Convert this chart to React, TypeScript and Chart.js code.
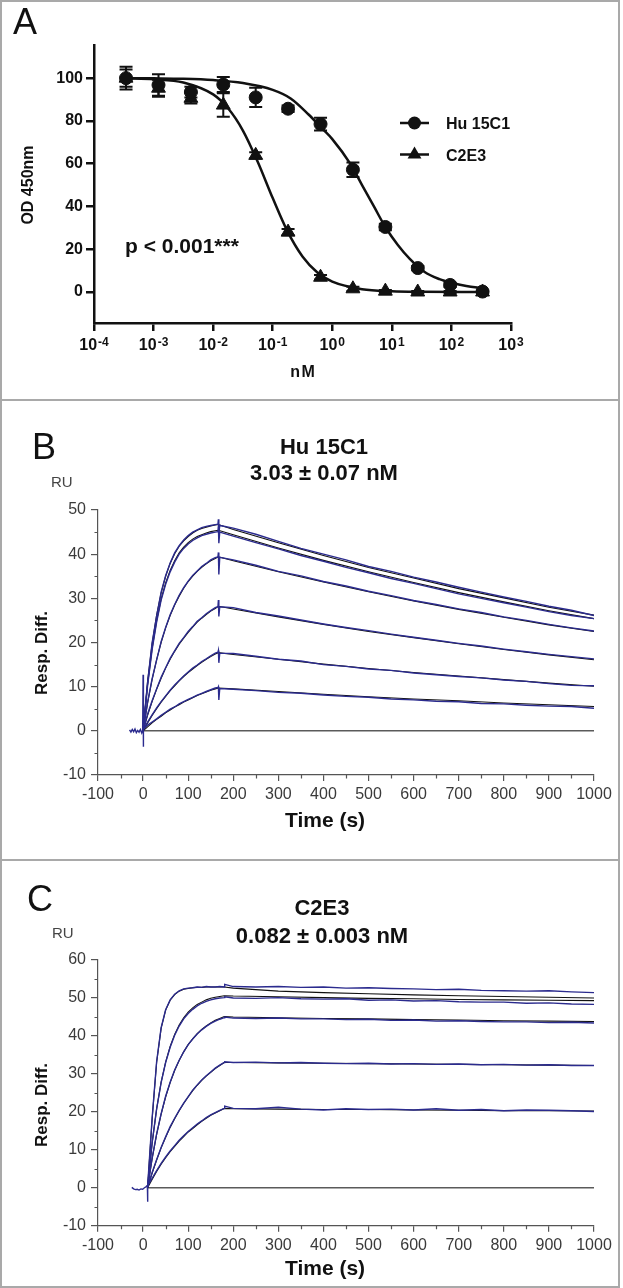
import React, { useEffect, useRef } from 'react';
import { Chart, registerables } from 'chart.js';

Chart.register(...registerables);

const FONT = '"Liberation Sans", Arial, Helvetica, sans-serif';
const INK = '#111111';
const BLUE = '#2b2b8e';
const AXIS = '#555555';
const TICK_TEXT = '#3a3a3a';

// ---------------- Panel A : competition ELISA ----------------
const CONC_NM = [0.000345, 0.00121, 0.00423, 0.0148, 0.0518, 0.181, 0.635, 2.22, 7.78, 27.2, 95.2, 333];
const HU15C1_OD = [100, 96.8, 93.5, 97, 91, 85.7, 78.5, 57.2, 30.4, 11.2, 3.3, 0.2];
const HU15C1_ERR = [5.3, 5, 2.5, 3.5, 4.5, 1.5, 3, 3.4, 1.5, 1, 1, 0.5];
const C2E3_OD = [100, 95.3, 90.6, 87.4, 63.9, 28, 6.9, 1.5, 0.4, 0, 0, 0];
const C2E3_ERR = [4, 4, 2.5, 5.5, 1.5, 1.5, 1, 1, 0.5, 0.5, 0.5, 0.5];
const HU15C1_FIT_X = [0.000345, 0.001, 0.00316, 0.01, 0.0316, 0.1, 0.2, 0.4, 0.7, 1, 2, 3.16, 5, 8, 12.6, 20, 35, 63, 100, 178, 333];
const HU15C1_FIT_Y = [100, 99.9, 99.7, 99.1, 97.7, 94.5, 90.5, 83, 76, 71.5, 60, 50, 40, 29.8, 22, 15.5, 9.5, 6, 4.3, 2.8, 1.8];
const C2E3_FIT_X = [0.000345, 0.001, 0.00316, 0.01, 0.0178, 0.0316, 0.0562, 0.1, 0.178, 0.316, 0.562, 1, 3.16, 10, 31.6, 333];
const C2E3_FIT_Y = [100, 99.5, 98.0, 92.4, 85.9, 75.5, 60.8, 43.9, 28.2, 16.6, 9.1, 4.8, 1.3, 0.35, 0.1, 0];
const A_X_TICKS = [1e-4, 1e-3, 1e-2, 1e-1, 1, 10, 100, 1000];
const A_X_EXPONENTS = ['-4', '-3', '-2', '-1', '0', '1', '2', '3'];
const A_Y_TICKS = [0, 20, 40, 60, 80, 100];

// ---------------- Panel B : Hu 15C1 sensorgrams ----------------
const B_FIT_T = [0, 10, 20, 30, 40, 50, 60, 70, 80, 90, 100, 110, 120, 130, 140, 150, 160, 167, 200, 300, 400, 500, 600, 700, 800, 900, 1000];
const B1_FIT = [0, 11.2, 19.7, 26.2, 31.2, 35.0, 37.9, 40.1, 41.8, 43.0, 44.0, 44.8, 45.4, 45.8, 46.1, 46.4, 46.6, 46.7, 45.6, 42.6, 39.7, 37.0, 34.6, 32.2, 30.1, 28.0, 26.2];
const B2_FIT = [0, 10.5, 18.6, 24.9, 29.8, 33.5, 36.3, 38.5, 40.3, 41.6, 42.6, 43.4, 44.0, 44.4, 44.8, 45.1, 45.3, 45.4, 44.4, 41.4, 38.6, 36.0, 33.6, 31.3, 29.2, 27.2, 25.4];
const B3_FIT = [0, 6.3, 11.6, 16.1, 20.0, 23.3, 26.1, 28.5, 30.5, 32.3, 33.8, 35.0, 36.1, 37.0, 37.8, 38.5, 39.0, 39.4, 38.5, 36.0, 33.7, 31.5, 29.4, 27.5, 25.7, 24.0, 22.5];
const B4_FIT = [0, 3.5, 6.6, 9.4, 11.9, 14.2, 16.2, 18.0, 19.6, 21.0, 22.3, 23.5, 24.6, 25.5, 26.3, 27.1, 27.7, 28.2, 27.6, 25.8, 24.1, 22.5, 21.1, 19.7, 18.4, 17.2, 16.1];
const B5_FIT = [0, 1.8, 3.5, 5.0, 6.5, 7.8, 9.1, 10.2, 11.3, 12.3, 13.2, 14.0, 14.8, 15.5, 16.2, 16.8, 17.4, 17.7, 17.3, 16.2, 15.1, 14.1, 13.2, 12.4, 11.6, 10.8, 10.1];
const B6_FIT = [0, 0.9, 1.8, 2.6, 3.3, 4.1, 4.7, 5.4, 5.9, 6.5, 7.0, 7.5, 8.0, 8.4, 8.8, 9.2, 9.5, 9.7, 9.5, 8.9, 8.3, 7.7, 7.2, 6.8, 6.3, 5.9, 5.5];

const B_DATA_T = [0, 10, 20, 30, 40, 50, 60, 70, 80, 90, 100, 110, 120, 130, 140, 150, 160, 166, 167, 168, 170, 200, 250, 300, 350, 400, 450, 500, 550, 600, 650, 700, 750, 800, 850, 900, 950, 1000];
const B1_DATA = [0.2, 11.0, 19.9, 26.0, 31.4, 35.1, 38.0, 40.3, 41.9, 43.2, 44.2, 45.0, 45.5, 46.0, 46.3, 46.5, 46.7, 46.8, 47.9, 44.5, 46.5, 45.9, 44.5, 42.9, 41.3, 40.0, 38.7, 37.2, 36.1, 34.8, 33.7, 32.5, 31.4, 30.3, 29.3, 28.2, 27.3, 26.1];
const B2_DATA = [-0.1, 10.3, 18.4, 24.6, 29.6, 33.2, 36.0, 38.2, 40.0, 41.3, 42.3, 43.1, 43.7, 44.2, 44.5, 44.8, 45.0, 45.1, 46.3, 42.5, 45.0, 44.1, 42.6, 41.2, 39.7, 38.4, 37.0, 35.8, 34.5, 33.4, 32.2, 31.0, 30.0, 29.0, 28.0, 27.0, 26.1, 25.4];
const B3_DATA = [0.1, 6.5, 11.8, 16.0, 20.2, 23.4, 26.3, 28.6, 30.7, 32.4, 33.9, 35.2, 36.2, 37.2, 37.9, 38.7, 39.2, 39.4, 40.4, 35.4, 39.3, 38.7, 37.5, 36.1, 35.1, 33.8, 32.8, 31.6, 30.6, 29.5, 28.6, 27.6, 26.8, 25.8, 25.0, 24.1, 23.3, 22.6];
const B4_DATA = [0, 3.8, 6.8, 9.5, 12.1, 14.3, 16.4, 18.1, 19.8, 21.1, 22.5, 23.6, 24.8, 25.6, 26.5, 27.2, 27.9, 28.1, 29.6, 25.9, 28.1, 27.9, 26.8, 26.0, 25.1, 24.2, 23.4, 22.7, 21.9, 21.2, 20.5, 19.8, 19.2, 18.5, 17.9, 17.3, 16.8, 16.3];
const B5_DATA = [0.2, 2.0, 3.6, 5.2, 6.6, 7.9, 9.2, 10.4, 11.4, 12.4, 13.3, 14.2, 14.9, 15.7, 16.3, 17.0, 17.6, 17.8, 18.2, 15.4, 17.6, 17.5, 16.9, 16.2, 15.8, 15.0, 14.6, 14.0, 13.7, 13.1, 12.7, 12.3, 12.0, 11.5, 11.2, 10.7, 10.3, 10.2];
const B6_DATA = [0.3, 1.3, 2.0, 2.7, 3.5, 4.2, 4.9, 5.4, 6.1, 6.6, 7.1, 7.6, 8.1, 8.5, 8.9, 9.3, 9.7, 9.8, 10.0, 7.0, 9.6, 9.4, 9.1, 8.7, 8.5, 8.1, 7.8, 7.6, 7.2, 7.0, 6.7, 6.6, 6.2, 6.1, 5.8, 5.6, 5.5, 5.1];
const B_BASE_T = [-30, -27, -24, -21, -18, -15, -12, -9, -6, -3, -1, 0, 0.3, 0.7, 1.2];
const B_BASE_V = [0.2, -0.3, 0.3, -0.2, 0.4, -0.4, 0.1, -0.3, 0.3, -0.5, 0.1, 12.7, -3.6, 1.2, 0.3];
const B_ZERO_T = [0, 1000];

// ---------------- Panel C : C2E3 sensorgrams ----------------
const C_FIT_T = [10, 20, 30, 40, 50, 60, 70, 80, 90, 100, 110, 120, 130, 140, 150, 160, 170, 180, 200, 300, 400, 500, 600, 700, 800, 900, 1000];
const C1_FIT = [0, 18, 33, 42, 46.8, 49.4, 50.9, 51.8, 52.3, 52.5, 52.7, 52.8, 52.8, 52.9, 52.9, 52.9, 52.9, 52.9, 52.6, 51.8, 51.4, 51.1, 50.8, 50.6, 50.4, 50.2, 50.0];
const C2_FIT = [0, 11.7, 20.7, 27.8, 33.1, 37.2, 40.4, 42.9, 44.8, 46.3, 47.4, 48.3, 48.9, 49.5, 49.9, 50.2, 50.4, 50.6, 50.5, 50.3, 50.1, 49.9, 49.8, 49.6, 49.5, 49.4, 49.3];
const C3_FIT = [0, 7.6, 14.0, 19.4, 23.9, 27.7, 30.9, 33.5, 35.8, 37.7, 39.2, 40.6, 41.7, 42.6, 43.4, 44.1, 44.6, 45.1, 45.0, 44.8, 44.6, 44.5, 44.3, 44.2, 44.0, 43.9, 43.8];
const C4_FIT = [0, 3.8, 7.3, 10.5, 13.3, 15.9, 18.2, 20.3, 22.2, 23.9, 25.6, 27.0, 28.3, 29.4, 30.4, 31.4, 32.2, 33.0, 33.0, 32.9, 32.8, 32.7, 32.6, 32.5, 32.4, 32.3, 32.2];
const C5_FIT = [0, 2.2, 4.3, 6.2, 7.9, 9.5, 10.9, 12.3, 13.5, 14.7, 15.6, 16.6, 17.5, 18.3, 19.1, 19.7, 20.3, 20.9, 20.8, 20.7, 20.6, 20.6, 20.5, 20.4, 20.3, 20.3, 20.2];

const C_DATA_T = [10, 20, 30, 40, 50, 60, 70, 80, 90, 100, 110, 120, 130, 140, 150, 160, 170, 180, 181, 200, 250, 300, 350, 400, 450, 500, 550, 600, 650, 700, 750, 800, 850, 900, 950, 1000];
const C1_DATA = [0.3, 18.3, 33.2, 42.2, 46.9, 49.5, 51.0, 51.9, 52.4, 52.6, 52.7, 52.9, 52.8, 53.0, 52.9, 52.9, 53.0, 52.9, 53.6, 53.0, 52.9, 53.0, 52.8, 52.9, 52.6, 52.7, 52.5, 52.4, 52.2, 52.3, 52.0, 51.9, 51.8, 51.9, 51.6, 51.4];
const C2_DATA = [0.2, 11.8, 20.8, 27.7, 33.0, 37.0, 40.2, 42.6, 44.5, 45.9, 47.0, 47.9, 48.6, 49.1, 49.5, 49.8, 50.0, 50.1, 50.3, 50.0, 49.9, 50.1, 49.8, 49.7, 49.8, 49.4, 49.5, 49.2, 49.3, 49.0, 48.9, 48.9, 48.6, 48.7, 48.4, 48.3];
const C3_DATA = [0.1, 7.8, 14.2, 19.5, 24.1, 27.8, 31.0, 33.6, 35.8, 37.7, 39.2, 40.5, 41.6, 42.5, 43.3, 43.9, 44.4, 44.8, 45.0, 44.7, 44.6, 44.7, 44.5, 44.5, 44.3, 44.4, 44.1, 44.2, 43.9, 44.0, 43.8, 43.7, 43.7, 43.5, 43.6, 43.4];
const C4_DATA = [0.2, 4.0, 7.4, 10.6, 13.4, 16.1, 18.3, 20.4, 22.3, 24.0, 25.7, 27.1, 28.4, 29.5, 30.5, 31.5, 32.3, 33.0, 33.2, 33.0, 33.1, 32.9, 33.0, 32.8, 32.7, 32.8, 32.6, 32.7, 32.5, 32.6, 32.4, 32.5, 32.3, 32.4, 32.2, 32.2];
const C5_DATA = [0.4, 2.5, 4.5, 6.4, 8.1, 9.7, 11.1, 12.5, 13.7, 14.8, 15.8, 16.8, 17.6, 18.5, 19.2, 19.8, 20.4, 20.9, 21.5, 20.9, 20.8, 21.2, 20.7, 20.5, 20.8, 20.6, 20.7, 20.5, 20.8, 20.4, 20.6, 20.3, 20.5, 20.4, 20.3, 20.1];
const C_BASE_T = [-25, -21, -17, -13, -9, -5, -1, 3, 7, 9.5, 10, 10.4, 11];
const C_BASE_V = [0.1, -0.3, -0.5, -0.4, -0.6, -0.3, -0.4, 0.0, 0.3, 0.6, -3.7, 1.0, 0.4];
const C_ZERO_T = [10, 1000];

// shared SPR axes
const SPR_X_TICKS = [-100, 0, 100, 200, 300, 400, 500, 600, 700, 800, 900, 1000];
const SPR_X_MINOR = [-50, 50, 150, 250, 350, 450, 550, 650, 750, 850, 950];
const B_Y_TICKS = [-10, 0, 10, 20, 30, 40, 50];
const B_Y_MINOR = [-5, 5, 15, 25, 35, 45];
const C_Y_TICKS = [-10, 0, 10, 20, 30, 40, 50, 60];
const C_Y_MINOR = [-5, 5, 15, 25, 35, 45, 55];

type Pt = { x: number; y: number };
const xy = (xs: number[], ys: number[]): Pt[] => xs.map((x, i) => ({ x, y: ys[i] }));

function txt(
  ctx: CanvasRenderingContext2D,
  s: string,
  x: number,
  y: number,
  font: string,
  align: CanvasTextAlign = 'left',
  baseline: CanvasTextBaseline = 'alphabetic',
  color = INK,
  rot = 0
) {
  ctx.save();
  ctx.font = font;
  ctx.fillStyle = color;
  ctx.textAlign = align;
  ctx.textBaseline = baseline;
  ctx.translate(x, y);
  if (rot) ctx.rotate(rot);
  ctx.fillText(s, 0, 0);
  ctx.restore();
}

function overlay(id: string, draw: (ctx: CanvasRenderingContext2D, chart: any) => void, before = false) {
  const fn = (chart: any) => {
    const ctx = chart.ctx as CanvasRenderingContext2D;
    ctx.save();
    draw(ctx, chart);
    ctx.restore();
  };
  return before ? { id, beforeDatasetsDraw: fn } : { id, afterDraw: fn };
}

function makeA(canvas: HTMLCanvasElement) {
  const errorBars = overlay(
    'errA',
    (ctx, chart) => {
      const xs = chart.scales.x;
      const ys = chart.scales.y;
      ctx.strokeStyle = INK;
      ctx.lineWidth = 2;
      const series = [
        [HU15C1_OD, HU15C1_ERR],
        [C2E3_OD, C2E3_ERR],
      ];
      series.forEach(([m, e]) => {
        CONC_NM.forEach((c, i) => {
          const px = xs.getPixelForValue(c);
          const t = ys.getPixelForValue(m[i] + e[i]);
          const b = ys.getPixelForValue(m[i] - e[i]);
          ctx.beginPath();
          ctx.moveTo(px, t);
          ctx.lineTo(px, b);
          ctx.moveTo(px - 6.5, t);
          ctx.lineTo(px + 6.5, t);
          ctx.moveTo(px - 6.5, b);
          ctx.lineTo(px + 6.5, b);
          ctx.stroke();
        });
      });
    },
    true
  );

  const texts = overlay('txtA', (ctx, chart) => {
    const xs = chart.scales.x;
    txt(ctx, 'A', 13, 34, `36px ${FONT}`);
    txt(ctx, 'OD 450nm', 29, 185, `bold 16px ${FONT}`, 'center', 'middle', INK, -Math.PI / 2);
    txt(ctx, 'n\u200aM', 302.5, 373, `bold 16px ${FONT}`, 'center', 'middle');
    txt(ctx, 'p < 0.001***', 125, 253, `bold 21px ${FONT}`);
    A_X_TICKS.forEach((v, i) => {
      const px = xs.getPixelForValue(v);
      ctx.font = `bold 16px ${FONT}`;
      const wb = ctx.measureText('10').width;
      ctx.font = `bold 12px ${FONT}`;
      const ws = ctx.measureText(A_X_EXPONENTS[i]).width;
      const start = px - (wb + ws + 1) / 2;
      txt(ctx, '10', start, 349.5, `bold 16px ${FONT}`);
      txt(ctx, A_X_EXPONENTS[i], start + wb + 1, 346, `bold 12px ${FONT}`);
    });
    ctx.strokeStyle = INK;
    ctx.fillStyle = INK;
    ctx.lineWidth = 2.5;
    ctx.beginPath();
    ctx.moveTo(400, 123);
    ctx.lineTo(429, 123);
    ctx.moveTo(400, 154.5);
    ctx.lineTo(429, 154.5);
    ctx.stroke();
    ctx.beginPath();
    ctx.arc(414.5, 123, 6.5, 0, Math.PI * 2);
    ctx.fill();
    const r = 8;
    ctx.beginPath();
    ctx.moveTo(414.5, 154.5 - r);
    ctx.lineTo(414.5 + r * 0.866, 154.5 + r / 2);
    ctx.lineTo(414.5 - r * 0.866, 154.5 + r / 2);
    ctx.closePath();
    ctx.fill();
    txt(ctx, 'Hu 15C1', 446, 129.3, `bold 16px ${FONT}`);
    txt(ctx, 'C2E3', 446, 160.7, `bold 16px ${FONT}`);
  });

  return new Chart(canvas, {
    type: 'line',
    data: {
      datasets: [
        {
          data: xy(CONC_NM, HU15C1_OD),
          showLine: false,
          pointStyle: 'circle',
          pointRadius: 6.5,
          pointBackgroundColor: INK,
          pointBorderColor: INK,
          pointBorderWidth: 1,
        },
        {
          data: xy(CONC_NM, C2E3_OD),
          showLine: false,
          pointStyle: 'triangle',
          pointRadius: 8,
          pointBackgroundColor: INK,
          pointBorderColor: INK,
          pointBorderWidth: 1,
        },
        {
          data: xy(HU15C1_FIT_X, HU15C1_FIT_Y),
          borderColor: INK,
          borderWidth: 2.5,
          pointRadius: 0,
          cubicInterpolationMode: 'monotone',
        },
        {
          data: xy(C2E3_FIT_X, C2E3_FIT_Y),
          borderColor: INK,
          borderWidth: 2.5,
          pointRadius: 0,
          cubicInterpolationMode: 'monotone',
        },
      ],
    } as any,
    options: {
      responsive: false,
      animation: false,
      devicePixelRatio: 1,
      layout: { padding: { left: 0, right: 112, top: 45, bottom: 47 } },
      plugins: { legend: { display: false }, tooltip: { enabled: false } },
      scales: {
        x: {
          type: 'logarithmic',
          min: 1e-4,
          max: 1e3,
          afterBuildTicks: (s: any) => {
            s.ticks = A_X_TICKS.map((v) => ({ value: v }));
          },
          afterFit: (s: any) => {
            s.height = 30;
          },
          grid: { drawOnChartArea: false, drawTicks: true, tickLength: 8, color: INK, lineWidth: 2.5 },
          border: { display: true, color: INK, width: 2.5 },
          ticks: { display: false },
        },
        y: {
          type: 'linear',
          min: -14.5,
          max: 115.5,
          afterBuildTicks: (s: any) => {
            s.ticks = A_Y_TICKS.map((v) => ({ value: v }));
          },
          afterFit: (s: any) => {
            s.width = 94;
          },
          grid: { drawOnChartArea: false, drawTicks: true, tickLength: 8, color: INK, lineWidth: 2.5 },
          border: { display: true, color: INK, width: 2.5 },
          ticks: {
            color: INK,
            padding: 3,
            font: { family: FONT, size: 16, weight: 'bold' },
            callback: (v: any) => String(v),
          },
        },
      },
    } as any,
    plugins: [errorBars, texts],
  });
}

type SprPanel = {
  fitT: number[];
  fits: number[][];
  dataT: number[];
  traces: number[][];
  baseT: number[];
  baseV: number[];
  zeroT: number[];
  yMin: number;
  yMax: number;
  yTicks: number[];
  yMinor: number[];
  top: number;
  bottom: number;
  label: string;
  labelBase: number;
  labelX: number;
  title1: string;
  title2: string;
  titleX: number;
  t1Base: number;
  t2Base: number;
  ruBase: number;
  ruX: number;
  yTitleY: number;
  xTitleBase: number;
};

function makeSpr(canvas: HTMLCanvasElement, p: SprPanel) {
  const datasets: any[] = [];
  // blue measured traces drawn on top of the black fitted curves
  p.traces.forEach((d) =>
    datasets.push({ data: xy(p.dataT, d), borderColor: BLUE, borderWidth: 1.4, pointRadius: 0 })
  );
  datasets.push({ data: xy(p.baseT, p.baseV), borderColor: BLUE, borderWidth: 1.4, pointRadius: 0 });
  p.fits.forEach((f) =>
    datasets.push({ data: xy(p.fitT, f), borderColor: INK, borderWidth: 1.1, pointRadius: 0 })
  );
  datasets.push({ data: xy(p.zeroT, [0, 0]), borderColor: '#5a5a5a', borderWidth: 1.5, pointRadius: 0 });

  const minor = overlay('minor', (ctx, chart) => {
    const xs = chart.scales.x;
    const ys = chart.scales.y;
    const a = chart.chartArea;
    ctx.strokeStyle = AXIS;
    ctx.lineWidth = 1.2;
    ctx.beginPath();
    SPR_X_MINOR.forEach((v) => {
      const px = Math.round(xs.getPixelForValue(v)) + 0.5;
      ctx.moveTo(px, a.bottom);
      ctx.lineTo(px, a.bottom + 3.5);
    });
    p.yMinor.forEach((v) => {
      const py = Math.round(ys.getPixelForValue(v)) + 0.5;
      ctx.moveTo(a.left - 3.5, py);
      ctx.lineTo(a.left, py);
    });
    ctx.stroke();

    txt(ctx, p.label, p.labelX, p.labelBase, `36px ${FONT}`);
    txt(ctx, p.title1, p.titleX, p.t1Base, `bold 22px ${FONT}`, 'center');
    txt(ctx, p.title2, p.titleX, p.t2Base, `bold 22px ${FONT}`, 'center');
    txt(ctx, 'RU', p.ruX, p.ruBase, `15px ${FONT}`, 'left', 'alphabetic', '#444444');
    txt(ctx, 'Resp. Diff.', 42, p.yTitleY, `bold 17px ${FONT}`, 'center', 'middle', INK, -Math.PI / 2);
    txt(ctx, 'Time (s)', 325, p.xTitleBase, `bold 21px ${FONT}`, 'center');
  });

  return new Chart(canvas, {
    type: 'line',
    data: { datasets },
    options: {
      responsive: false,
      animation: false,
      devicePixelRatio: 1,
      layout: { padding: { left: 0, right: 29, top: p.top, bottom: p.bottom } },
      plugins: { legend: { display: false }, tooltip: { enabled: false } },
      elements: { line: { tension: 0 } },
      scales: {
        x: {
          type: 'linear',
          min: -100,
          max: 1000,
          afterBuildTicks: (s: any) => {
            s.ticks = SPR_X_TICKS.map((v) => ({ value: v }));
          },
          afterFit: (s: any) => {
            s.height = 40;
          },
          grid: { drawOnChartArea: false, drawTicks: true, tickLength: 6, color: AXIS, lineWidth: 1.2 },
          border: { display: true, color: AXIS, width: 1.2 },
          ticks: {
            color: TICK_TEXT,
            padding: 4,
            autoSkip: false,
            maxRotation: 0,
            font: { family: FONT, size: 16 },
            callback: (v: any) => String(v),
          },
        },
        y: {
          type: 'linear',
          min: p.yMin,
          max: p.yMax,
          afterBuildTicks: (s: any) => {
            s.ticks = p.yTicks.map((v) => ({ value: v }));
          },
          afterFit: (s: any) => {
            s.width = 98;
          },
          grid: { drawOnChartArea: false, drawTicks: true, tickLength: 7, color: AXIS, lineWidth: 1.2 },
          border: { display: true, color: AXIS, width: 1.2 },
          ticks: {
            color: TICK_TEXT,
            padding: 5,
            font: { family: FONT, size: 16 },
            callback: (v: any) => String(v),
          },
        },
      },
    } as any,
    plugins: [minor],
  });
}

const PANEL_B: SprPanel = {
  fitT: B_FIT_T,
  fits: [B1_FIT, B2_FIT, B3_FIT, B4_FIT, B5_FIT, B6_FIT],
  dataT: B_DATA_T,
  traces: [B1_DATA, B2_DATA, B3_DATA, B4_DATA, B5_DATA, B6_DATA],
  baseT: B_BASE_T,
  baseV: B_BASE_V,
  zeroT: B_ZERO_T,
  yMin: -10,
  yMax: 50,
  yTicks: B_Y_TICKS,
  yMinor: B_Y_MINOR,
  top: 110,
  bottom: 44,
  label: 'B',
  labelBase: 59,
  labelX: 32,
  title1: 'Hu 15C1',
  title2: '3.03 ± 0.07 nM',
  titleX: 324,
  t1Base: 54,
  t2Base: 80,
  ruBase: 87,
  ruX: 51,
  yTitleY: 253,
  xTitleBase: 427,
};

const PANEL_C: SprPanel = {
  fitT: C_FIT_T,
  fits: [C1_FIT, C2_FIT, C3_FIT, C4_FIT, C5_FIT],
  dataT: C_DATA_T,
  traces: [C1_DATA, C2_DATA, C3_DATA, C4_DATA, C5_DATA],
  baseT: C_BASE_T,
  baseV: C_BASE_V,
  zeroT: C_ZERO_T,
  yMin: -10,
  yMax: 60,
  yTicks: C_Y_TICKS,
  yMinor: C_Y_MINOR,
  top: 101,
  bottom: 22.3,
  label: 'C',
  labelBase: 52,
  labelX: 27,
  title1: 'C2E3',
  title2: '0.082 ± 0.003 nM',
  titleX: 322,
  t1Base: 56,
  t2Base: 83.5,
  ruBase: 79,
  ruX: 52,
  yTitleY: 246,
  xTitleBase: 416,
};

export default function App() {
  const aRef = useRef<HTMLCanvasElement>(null);
  const bRef = useRef<HTMLCanvasElement>(null);
  const cRef = useRef<HTMLCanvasElement>(null);

  useEffect(() => {
    const charts = [
      makeA(aRef.current as HTMLCanvasElement),
      makeSpr(bRef.current as HTMLCanvasElement, PANEL_B),
      makeSpr(cRef.current as HTMLCanvasElement, PANEL_C),
    ];
    return () => charts.forEach((c) => c.destroy());
  }, []);

  const abs = (top: number, h: number): React.CSSProperties => ({
    position: 'absolute',
    left: 0,
    top,
    width: 623,
    height: h,
  });
  const frame = '#a9a9a9';

  return (
    <div style={{ position: 'absolute', left: 0, top: 0, width: 623, height: 1288, background: '#ffffff', overflow: 'hidden' }}>
      <canvas ref={aRef} width={623} height={400} style={abs(0, 400)} />
      <canvas ref={bRef} width={623} height={459} style={abs(400, 459)} />
      <canvas ref={cRef} width={623} height={429} style={abs(859, 429)} />
      <div
        style={{
          position: 'absolute',
          left: 0,
          top: 0,
          width: 620,
          height: 1288,
          border: `2px solid ${frame}`,
          boxSizing: 'border-box',
          pointerEvents: 'none',
        }}
      />
      <div style={{ position: 'absolute', left: 0, top: 399, width: 620, height: 2, background: frame }} />
      <div style={{ position: 'absolute', left: 0, top: 859, width: 620, height: 2, background: frame }} />
    </div>
  );
}
